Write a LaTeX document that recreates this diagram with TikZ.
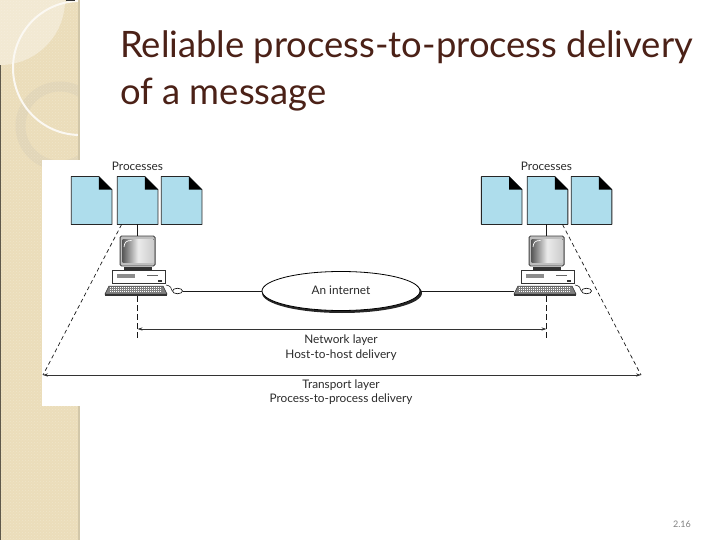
\documentclass[tikz,border=0pt]{standalone}
\usepackage{fontspec}
\setmainfont{Lato}
\usetikzlibrary{arrows.meta,shapes.geometric,calc,patterns}
\definecolor{strip}{HTML}{EBDDBA}
\definecolor{stripedge}{HTML}{D2C7A9}
\definecolor{leaf}{HTML}{F2E9D3}
\definecolor{ringc}{HTML}{E2D6B8}
\definecolor{titlec}{HTML}{4B2117}
\definecolor{docblue}{HTML}{AEDDEC}
\definecolor{diag}{HTML}{2A2A2A}
\tikzset{
  docbox/.style={minimum width=40.3pt,minimum height=47.5pt,inner sep=0pt,draw=none},
  docline/.style={draw=black!85,line width=0.8pt,fill=docblue,line join=round},
  foldfill/.style={fill=black},
  pcline/.style={draw=black!85,line width=0.6pt},
  wire/.style={draw=black!90,line width=0.8pt},
  dashline/.style={draw=black!90,line width=0.7pt,dash pattern=on 4pt off 3pt},
  vdash/.style={draw=black!90,line width=0.7pt,dash pattern=on 6pt off 3pt},
  span/.style={draw=black!80,line width=0.55pt,{Stealth[length=5pt,width=3.2pt]}-{Stealth[length=5pt,width=3.2pt]}},
  lab/.style={font=\fontsize{11.8}{14}\selectfont,text=diag,inner sep=0pt,align=center},
  titlet/.style={font=\fontsize{36.4}{44}\selectfont,text=titlec,inner sep=0pt,anchor=base west},
  cloud/.style={ellipse,draw=black,line width=0.8pt,fill=white,minimum width=158pt,minimum height=39pt,inner sep=0pt}
}
\newcommand{\docshape}[1]{%
  \draw[docline] (#1.south west)--(#1.north west)--([xshift=-13pt]#1.north east)--([yshift=-13pt]#1.north east)--(#1.south east)--cycle;
  \fill[foldfill] ([xshift=-13pt]#1.north east)--([yshift=-13pt]#1.north east)--([xshift=-13pt,yshift=-13pt]#1.north east)--cycle;
}
\newcommand{\computer}[2]{%
\begin{scope}[shift={(#2,0)}]
  % monitor
  \node[draw=black!75,line width=0.9pt,fill=black!25,rounded corners=1.5pt,minimum width=35pt,minimum height=30pt,inner sep=0pt] (#1mon) at (137.6,251) {};
  \fill[left color=black!65,right color=black!20,middle color=black!8] (122.5,239) rectangle (153.5,262);
  \draw[white,line width=0.7pt] (124,247) .. controls (124.5,242) and (126.5,240.5) .. (131.5,240.5);
  % stand
  \fill[black!80] (124,266.5) rectangle (152,270);
  % base
  \node[draw=black!80,line width=0.7pt,fill=white,minimum width=53pt,minimum height=13pt,inner sep=0pt] (#1base) at (138.5,276.7) {};
  \fill[black!45] (117,273.5) rectangle (135,277.5);
  \draw[black!60,line width=0.9pt] (147,275.5) -- (158,275.5);
  \fill[black!80] (158,280) rectangle (162,282);
  % keyboard
  \node[minimum width=62pt,minimum height=10pt,inner sep=0pt] (#1key) at (136,291) {};
  \filldraw[draw=black!80,line width=0.5pt,fill=black!50] (109,286) -- (163,286) -- (167,294) -- (105,294) -- cycle;
  \fill[black!80] (105,294) rectangle (167,296);
  \foreach \r in {287.3,289.3,291.3}{\draw[white,line width=0.5pt,dash pattern=on 1pt off 1pt] (110,\r) -- (162,\r);}
  % mouse
  \node[ellipse,draw=black,line width=0.6pt,fill=white,minimum width=10pt,minimum height=5.5pt,inner sep=0pt] (#1mouse) at (177.5,291) {};
  \draw[pcline] (166,285) .. controls (170,285.5) and (172,288) .. (#1mouse.west);
\end{scope}}
\begin{document}
\begin{tikzpicture}[x=1pt,y=-1pt]
\useasboundingbox (0,0) rectangle (720,540);
% side strip
\begin{scope}
  \clip (0,0) rectangle (78,540);
  \fill[strip] (0,0) rectangle (78,540);
  \fill[leaf] (0,0) circle[radius=65];
  \draw[ringc,line width=10pt] (60,126) circle[radius=39.5];
  \draw[white!70!leaf,line width=2pt] (80,68) circle[radius=67];
  \fill[pattern=crosshatch dots,pattern color=white,opacity=0.22] (0,0) rectangle (78,540);
  \fill[black!60!strip] (0,65) rectangle (1,540);
  \fill[black!80] (66,0) rectangle (75,1.2);
\end{scope}
\fill[stripedge] (78,0) rectangle (79.5,160);
\fill[stripedge] (78,406) rectangle (79.5,540);
\fill[white] (42,160) rectangle (80,406);
% title
\node[titlet] (t1) at (120,58) {Reliable process-to-process delivery};
\node[titlet] (t2) at (120,105) {of a message};
% process labels
\node[lab] (pl) at (137.5,166) {Processes};
\node[lab] (pr) at (546.5,166) {Processes};
% documents
\node[docbox] (L1) at (91.6,200.5) {};
\node[docbox] (L2) at (137.6,200.5) {};
\node[docbox] (L3) at (181.6,200.5) {};
\node[docbox] (R1) at (501.7,200.5) {};
\node[docbox] (R2) at (547.5,200.5) {};
\node[docbox] (R3) at (591.5,200.5) {};
\docshape{L1}\docshape{L2}\docshape{L3}\docshape{R1}\docshape{R2}\docshape{R3}
% free ends
\coordinate (LT) at (43,375);
\coordinate (RT) at (641,375);
\coordinate (LN) at (137.5,329);
\coordinate (RN) at (546.5,329);
\coordinate (LV) at (137.5,339);
\coordinate (RV) at (546.5,339);
% computers
\computer{a}{0}
\computer{b}{409}
% internet
\fill[black!85] (342,293) ellipse[x radius=80,y radius=20];
\node[cloud] (net) at (341,291) {};
\node[lab] (netl) at (341,290.5) {An internet};
\draw[wire] (amouse.east) -- (net.west);
\draw[wire] (net.east) -- (bkey.west |- net.east);
% solid links
\draw[wire] (amon.north |- L2.south) -- (amon.north);
\draw[wire] (bmon.north |- R2.south) -- (bmon.north);
% dashed
\draw[dashline] ([xshift=-16pt]L2.south) -- (LT);
\draw[dashline] ([xshift=15pt]R2.south) -- (RT);
\draw[vdash] (akey.south -| LV) -- (LV);
\draw[vdash] (bkey.south -| RV) -- (RV);
% spans
\draw[span] (LN) -- (RN);
\draw[span] (LT) -- (RT);
% labels
\node[lab] (nw) at (341,347.5) {Network layer\\[0.5pt]Host-to-host delivery};
\node[lab] (tr) at (341,392) {Transport layer\\[0.5pt]Process-to-process delivery};
\node[font=\fontsize{9}{11}\selectfont,text=black!50,inner sep=0pt] (pg) at (682,524) {2.16};
\end{tikzpicture}
\end{document}
